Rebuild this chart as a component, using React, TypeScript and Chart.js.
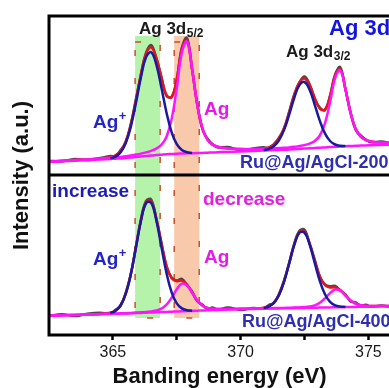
import { useEffect, useRef } from "react";
import { Chart, registerables } from "chart.js";

Chart.register(...registerables);

const FONT = '"Liberation Sans", Arial, Helvetica, sans-serif';

// Binding energy grid (eV)
const energy = [362.5, 363.0, 363.5, 364.0, 364.5, 364.9, 365.1, 365.3, 365.5, 365.7, 365.9, 366.1, 366.3, 366.5, 366.7, 366.9, 367.1, 367.3, 367.5, 367.7, 367.9, 368.1, 368.3, 368.5, 368.7, 368.9, 369.1, 369.5, 370.0, 370.5, 370.9, 371.1, 371.3, 371.5, 371.7, 371.9, 372.1, 372.3, 372.5, 372.7, 372.9, 373.1, 373.3, 373.5, 373.7, 373.9, 374.1, 374.3, 374.5, 374.7, 374.9, 375.1, 375.5, 376.0, 376.5, 377.0];

// Ru@Ag/AgCl-200 (upper panel), intensities relative to panel floor
const topRaw = [14.3, 13.6, 16.1, 14.7, 16.9, 18.9, 18.9, 24.9, 32.3, 50.8, 75.7, 100.6, 122.4, 129.8, 116.8, 98.2, 79.1, 78.4, 95.2, 127.4, 137.1, 105.5, 71.5, 46.0, 36.5, 30.8, 27.6, 28.0, 24.6, 26.5, 27.7, 26.9, 30.9, 37.4, 46.4, 63.3, 80.8, 92.3, 98.5, 90.7, 76.2, 67.4, 64.9, 79.4, 100.8, 107.9, 85.7, 62.9, 45.2, 39.5, 35.5, 32.8, 33.4, 31.4, 32.6, 31.6];
const topEnvelope = [13.5, 14.2, 14.9, 15.6, 16.4, 17.8, 19.6, 24.0, 33.5, 50.2, 74.3, 101.1, 121.6, 127.6, 117.2, 97.2, 79.9, 77.7, 96.3, 126.1, 134.6, 106.1, 70.6, 47.0, 35.3, 30.4, 28.3, 26.5, 25.9, 25.9, 26.6, 27.7, 30.4, 36.4, 47.0, 62.4, 79.6, 92.8, 96.5, 89.9, 77.1, 66.3, 65.6, 78.8, 99.5, 105.5, 86.3, 62.2, 46.2, 38.3, 35.0, 33.6, 32.4, 31.9, 31.9, 32.0];
const topAgPlus = [null, null, null, null, null, 16.6, 18.3, 22.5, 31.7, 48.1, 71.8, 98.1, 117.9, 122.8, 110.7, 87.3, 62.3, 42.7, 30.8, 25.0, 22.8, 22.1, null, null, null, null, null, null, null, null, 24.9, 26.0, 28.7, 34.6, 45.1, 60.3, 77.2, 89.9, 93.0, 85.2, 70.2, 54.1, 41.6, 34.0, 30.5, 29.2, 29.0, null, null, null, null, null, null, null, null, null];
const topAg = [13.5, 14.2, 14.9, 15.6, 16.4, 17.2, 17.6, 18.1, 18.8, 19.5, 20.4, 21.4, 22.6, 24.2, 26.4, 30.2, 38.3, 56.0, 86.8, 122.6, 133.5, 105.8, 70.6, 47.0, 35.3, 30.4, 28.3, 26.5, 25.9, 25.9, 26.2, 26.4, 26.6, 26.9, 27.2, 27.6, 28.2, 29.0, 29.9, 31.4, 33.9, 39.5, 51.6, 72.7, 97.2, 104.8, 86.1, 62.2, 46.2, 38.3, 35.0, 33.6, 32.4, 31.9, 31.9, 32.0];
const topBaseline = [13.1, 13.7, 14.3, 14.9, 15.5, 16.0, 16.3, 16.6, 17.0, 17.4, 17.9, 18.4, 18.9, 19.4, 19.9, 20.3, 20.7, 21.0, 21.3, 21.5, 21.7, 21.8, 21.9, 22.1, 22.3, 22.5, 22.7, 23.1, 23.6, 24.1, 24.5, 24.7, 24.9, 25.1, 25.3, 25.5, 25.8, 26.1, 26.4, 26.7, 27.0, 27.3, 27.6, 27.9, 28.2, 28.5, 28.8, 29.0, 29.2, 29.4, 29.6, 29.8, 30.1, 30.5, 30.9, 31.3];

// Ru@Ag/AgCl-400 (lower panel)
const botRaw = [18.9, 20.8, 18.9, 21.2, 22.3, 21.6, 25.2, 29.0, 42.2, 60.4, 88.3, 116.0, 134.1, 135.5, 116.1, 92.4, 68.4, 57.6, 54.4, 56.1, 49.9, 43.5, 33.7, 30.4, 25.9, 27.5, 25.3, 27.6, 25.1, 27.0, 26.4, 30.0, 31.9, 41.1, 54.7, 71.6, 91.6, 104.3, 105.2, 91.3, 75.5, 58.0, 50.6, 48.7, 49.1, 44.4, 40.6, 33.6, 32.7, 29.2, 30.2, 28.2, 29.6, 28.1, 30.4, 29.2];
const botEnvelope = [19.4, 19.8, 20.1, 20.5, 21.0, 22.2, 24.3, 29.8, 41.1, 60.8, 87.5, 114.8, 132.6, 133.2, 116.6, 91.5, 69.1, 56.6, 53.8, 54.3, 50.5, 42.4, 34.6, 29.6, 27.1, 26.2, 26.0, 26.0, 26.2, 26.5, 27.3, 28.8, 32.5, 40.3, 53.7, 72.1, 90.7, 102.9, 103.2, 91.7, 74.4, 58.8, 49.9, 47.5, 47.5, 44.9, 39.7, 34.6, 31.4, 29.8, 29.2, 29.0, 29.0, 29.2, 29.5, 29.7];
const botAgPlus = [null, null, null, null, null, 22.0, 24.1, 29.5, 40.8, 60.4, 87.0, 114.2, 131.9, 132.1, 114.8, 88.0, 61.8, 42.6, 31.6, 26.6, 24.8, 24.3, null, null, null, null, null, null, null, null, 26.9, 28.4, 32.1, 39.9, 53.3, 71.6, 90.2, 102.3, 102.4, 90.5, 72.1, 54.0, 40.8, 33.2, 29.7, 28.4, 28.1, null, null, null, null, null, null, null, null, null];
const botAg = [19.4, 19.8, 20.1, 20.5, 21.0, 21.3, 21.4, 21.7, 21.8, 22.1, 22.4, 22.7, 23.0, 23.6, 24.5, 26.4, 30.4, 37.3, 45.7, 51.4, 49.6, 42.2, 34.6, 29.6, 27.1, 26.2, 26.0, 26.0, 26.2, 26.5, 26.7, 26.8, 26.9, 27.0, 27.1, 27.3, 27.4, 27.6, 27.9, 28.4, 29.6, 32.2, 36.6, 41.9, 45.5, 44.3, 39.5, 34.6, 31.4, 29.8, 29.2, 29.0, 29.0, 29.2, 29.5, 29.7];
const botBaseline = [19.3, 19.7, 20.0, 20.4, 20.8, 21.1, 21.2, 21.4, 21.5, 21.7, 21.9, 22.1, 22.3, 22.5, 22.7, 22.9, 23.1, 23.3, 23.5, 23.7, 23.9, 24.1, 24.3, 24.5, 24.7, 24.9, 25.1, 25.5, 25.8, 26.1, 26.3, 26.4, 26.5, 26.6, 26.7, 26.8, 26.9, 27.0, 27.1, 27.2, 27.3, 27.4, 27.5, 27.6, 27.7, 27.8, 27.9, 28.0, 28.1, 28.2, 28.3, 28.4, 28.7, 29.0, 29.3, 29.6];

// Axis
const xTicks = [365, 367.5, 370, 372.5, 375];
const xLabelled = [365, 370, 375];
const X_MIN = 362.5;
const X_MAX = 377.02;
const Y_MAX = 319;
const PANEL_SPLIT = 160; // upper panel floor
const X_TITLE = "Banding energy (eV)";
const Y_TITLE = "Intensity (a.u.)";

// Highlight bands (eV)
const bandFrom = [365.87, 367.4];
const bandTo = [366.85, 368.38];
const bandTopValue = 299;
const bandBottomValue = 17;

const C_RAW = "#4a4a4a";
const C_ENV = "#e8141c";
const C_AGP = "#1a1aa0";
const C_AG = "#ff14ff";
const BAND_COLORS = ["#b4f3a9", "#f8c9aa"];

function rich(ctx: CanvasRenderingContext2D, x: number, y: number, text: string, size: number, color: string, script?: { text: string; size: number; dy: number }) {
  ctx.font = `bold ${size}px ${FONT}`;
  ctx.fillStyle = color;
  ctx.textAlign = "left";
  ctx.textBaseline = "alphabetic";
  ctx.fillText(text, x, y);
  if (script) {
    const w = ctx.measureText(text).width;
    ctx.font = `bold ${script.size}px ${FONT}`;
    ctx.fillText(script.text, x + w + 0.5, y + script.dy);
  }
}

const decorPlugin = {
  id: "decor",
  beforeDatasetsDraw(chart: any) {
    const { ctx, scales } = chart;
    const x = scales.x;
    const y = scales.y;
    const y0 = y.getPixelForValue(bandTopValue);
    const y1 = y.getPixelForValue(bandBottomValue);
    ctx.save();
    for (let i = 0; i < bandFrom.length; i++) {
      const x0 = x.getPixelForValue(bandFrom[i]);
      const x1 = x.getPixelForValue(bandTo[i]);
      ctx.fillStyle = BAND_COLORS[i];
      ctx.fillRect(x0, y0, x1 - x0, y1 - y0);
    }
    ctx.setLineDash([6, 22]);
    ctx.strokeStyle = "#c8502a";
    ctx.lineWidth = 1.5;
    for (let i = 0; i < bandFrom.length; i++) {
      const x0 = x.getPixelForValue(bandFrom[i]);
      const x1 = x.getPixelForValue(bandTo[i]);
      ctx.strokeRect(x0, y0 + 6, x1 - x0, y1 - y0 - 6);
    }
    ctx.restore();
  },
  afterDatasetsDraw(chart: any) {
    const { ctx, chartArea, scales } = chart;
    const y = scales.y;
    ctx.save();
    ctx.strokeStyle = "#000";
    ctx.lineWidth = 3;
    ctx.lineCap = "square";
    ctx.beginPath();
    ctx.moveTo(chart.width + 5, chartArea.top);
    ctx.lineTo(chartArea.left, chartArea.top);
    ctx.lineTo(chartArea.left, chartArea.bottom);
    ctx.lineTo(chart.width + 5, chartArea.bottom);
    const ys = y.getPixelForValue(PANEL_SPLIT);
    ctx.moveTo(chartArea.left, ys);
    ctx.lineTo(chart.width + 5, ys);
    ctx.stroke();

    rich(ctx, 329, 35, "Ag 3d", 22, "#1414e0");
    rich(ctx, 139, 34, "Ag 3d", 17, "#1a1a1a", { text: "5/2", size: 12, dy: 3 });
    rich(ctx, 286, 57, "Ag 3d", 17, "#1a1a1a", { text: "3/2", size: 12, dy: 3 });
    rich(ctx, 93, 128, "Ag", 19, "#2424c8", { text: "+", size: 13, dy: -8 });
    rich(ctx, 204, 115, "Ag", 19, "#e619e6");
    rich(ctx, 240, 168, "Ru@Ag/AgCl-200", 18, "#2e2eb4");
    rich(ctx, 52, 197, "increase", 19, "#1c1cb4");
    rich(ctx, 203, 205, "decrease", 19, "#e020e0");
    rich(ctx, 93, 265, "Ag", 19, "#2424c8", { text: "+", size: 13, dy: -8 });
    rich(ctx, 204, 263, "Ag", 19, "#e619e6");
    rich(ctx, 242, 327, "Ru@Ag/AgCl-400", 18, "#2e2eb4");

    // x-axis title (centred on the visible part of the axis)
    ctx.font = `bold 22px ${FONT}`;
    ctx.fillStyle = "#111";
    ctx.textAlign = "center";
    ctx.textBaseline = "alphabetic";
    ctx.fillText(X_TITLE, 219.5, 383);
    ctx.restore();
  },
};

export default function App() {
  const ref = useRef<HTMLCanvasElement>(null);
  useEffect(() => {
    const canvas = ref.current;
    if (!canvas) return;
    const mk = (arr: (number | null)[], off: number) =>
      energy.map((e, i) => ({ x: e, y: arr[i] === null ? null : (arr[i] as number) + off }));
    const line = (label: string, arr: (number | null)[], off: number, color: string, width: number, order: number) => ({
      label,
      data: mk(arr, off),
      borderColor: color,
      backgroundColor: color,
      borderWidth: width,
      pointRadius: 0,
      fill: false,
      tension: 0.4,
      spanGaps: false,
      order,
    });
    const datasets = [
      line("200 raw", topRaw, PANEL_SPLIT, C_RAW, 2.5, 5),
      line("200 envelope", topEnvelope, PANEL_SPLIT, C_ENV, 2.5, 4),
      line("200 Ag", topAg, PANEL_SPLIT, C_AG, 2.5, 3),
      line("200 baseline", topBaseline, PANEL_SPLIT, C_AG, 2.5, 2),
      line("200 Ag+", topAgPlus, PANEL_SPLIT, C_AGP, 2.5, 1),
      line("400 raw", botRaw, 0, C_RAW, 2.5, 5),
      line("400 envelope", botEnvelope, 0, C_ENV, 2.5, 4),
      line("400 Ag", botAg, 0, C_AG, 2.5, 3),
      line("400 baseline", botBaseline, 0, C_AG, 2.5, 2),
      line("400 Ag+", botAgPlus, 0, C_AGP, 2.5, 1),
    ];
    const chart = new Chart(canvas, {
      type: "line",
      data: { datasets: datasets as any },
      options: {
        animation: false,
        responsive: false,
        devicePixelRatio: 1,
        layout: { padding: { top: 16, right: 10, bottom: 0, left: 0 } },
        plugins: { legend: { display: false }, tooltip: { enabled: false } },
        scales: {
          x: {
            type: "linear",
            min: X_MIN,
            max: X_MAX,
            afterBuildTicks: (axis: any) => {
              axis.ticks = xTicks.map((v) => ({ value: v }));
            },
            afterFit: (axis: any) => {
              axis.height = 53;
            },
            border: { display: false },
            grid: {
              display: true,
              drawOnChartArea: false,
              drawTicks: true,
              tickLength: 5,
              tickWidth: 2.5,
              tickColor: "#000",
            },
            ticks: {
              autoSkip: false,
              maxRotation: 0,
              padding: 3,
              color: "#1a1a1a",
              font: { family: FONT, size: 16 },
              callback: (v: any) => (xLabelled.includes(Number(v)) ? String(v) : ""),
            },
            title: { display: false },
          },
          y: {
            type: "linear",
            min: 0,
            max: Y_MAX,
            afterFit: (axis: any) => {
              axis.width = 49;
            },
            border: { display: false },
            grid: { display: false },
            ticks: { display: false },
            title: {
              display: true,
              text: Y_TITLE,
              color: "#111",
              font: { family: FONT, size: 22, weight: "bold", lineHeight: 1.0 },
              padding: { top: 11, bottom: 0 },
            },
          },
        },
      },
      plugins: [decorPlugin],
    });
    return () => chart.destroy();
  }, []);
  return (
    <div style={{ position: "fixed", left: 0, top: 0, width: 389, height: 388, overflow: "hidden", background: "#fff" }}>
      <canvas ref={ref} width={430} height={388} style={{ display: "block", width: 430, height: 388 }} />
    </div>
  );
}
